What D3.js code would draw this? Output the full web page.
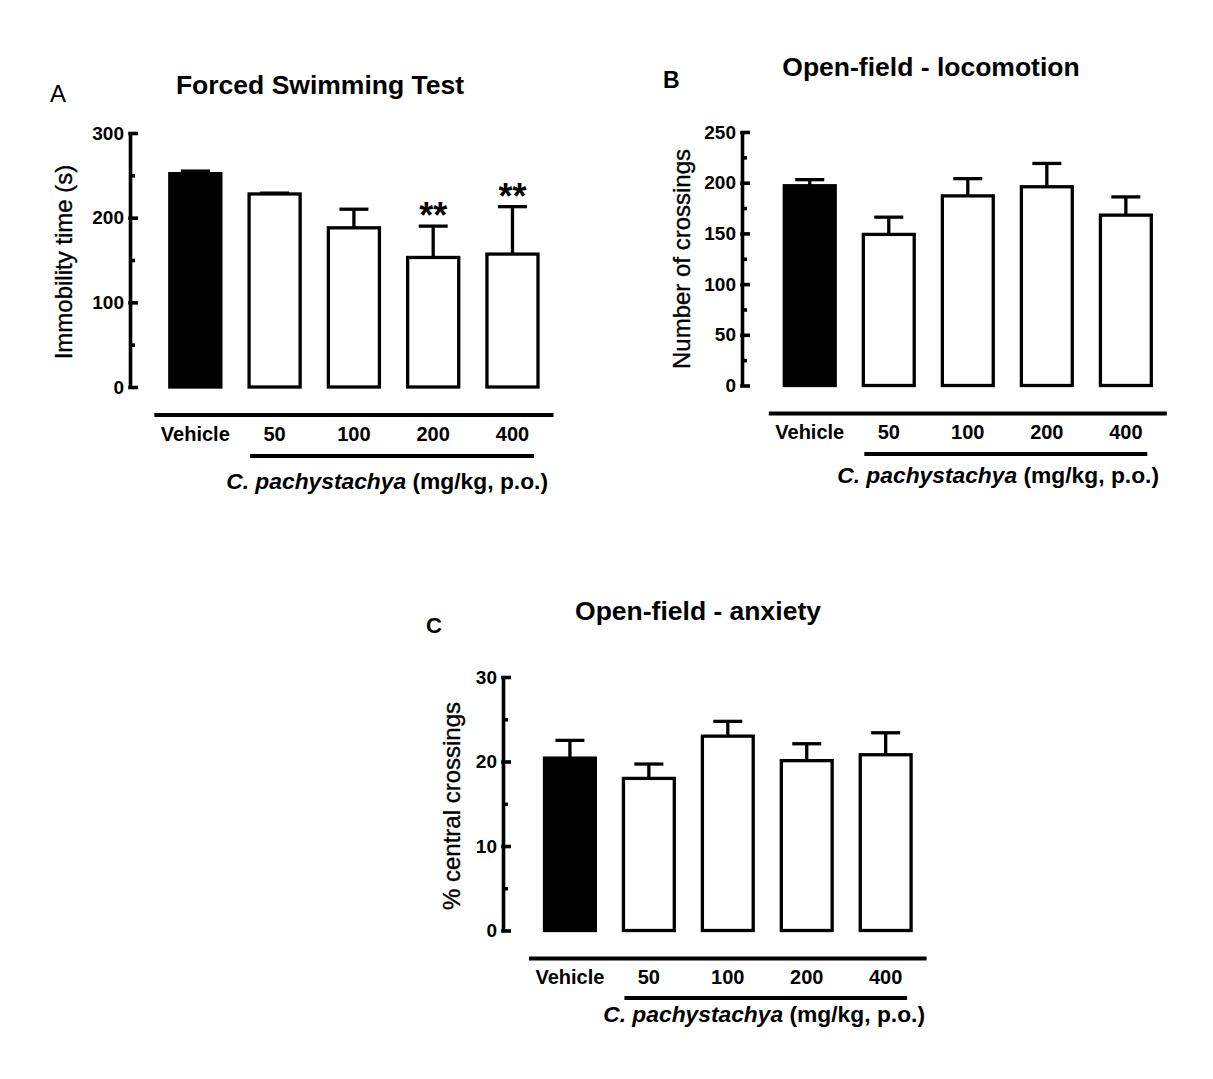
<!DOCTYPE html>
<html>
<head>
<meta charset="utf-8">
<script src="https://cdn.jsdelivr.net/npm/d3@7"></script>
<style>
  html, body { margin: 0; padding: 0; background: #fff; }
  svg { display: block; }
  text { font-family: "Liberation Sans", Arial, Helvetica, sans-serif; fill: #000; }
</style>
</head>
<body>
<script>
// Treatment groups (vehicle + extract doses, mg/kg)
const groups = ["Vehicle", "50", "100", "200", "400"];

// A: forced swimming test, immobility time (s), mean and SEM
const fstMean = [252, 228, 188, 153, 157];
const fstSem = [3, 1, 22, 37, 56];
const fstMarks = ["", "", "", "**", "**"];
const fstTicks = [0, 100, 200, 300];
const fstMinorTicks = [50, 150, 250];

// B: open field, number of crossings
const locoMean = [197, 149, 187, 196, 168];
const locoSem = [6, 17, 17, 23, 18];
const locoTicks = [0, 50, 100, 150, 200, 250];
const locoMinorTicks = [25, 75, 125, 175, 225];

// C: open field, % central crossings
const anxMean = [20.4, 18.0, 23.0, 20.1, 20.8];
const anxSem = [2.1, 1.7, 1.75, 2.0, 2.6];
const anxTicks = [0, 10, 20, 30];
const anxMinorTicks = [5, 15, 25];

const W = 1213, H = 1079;
const svg = d3.select("body").append("svg")
  .attr("width", W).attr("height", H)
  .attr("viewBox", `0 0 ${W} ${H}`);
svg.append("rect").attr("width", W).attr("height", H).attr("fill", "#fff");

const panels = [
  {
    letter: "A", letterBold: false, letterPos: [50, 102], letterSize: 24,
    title: "Forced Swimming Test", titlePos: [320, 94],
    yLabel: "Immobility time (s)", yLabelPos: [72, 262],
    mean: fstMean, sem: fstSem, marks: fstMarks,
    ticks: fstTicks, minor: fstMinorTicks,
    axisX: 130, yTop: 133, yBottom: 387,
    xRange: [169.8, 538],
    noteEnd: 548, noteY: 489, line2Y: 456
  },
  {
    letter: "B", letterBold: true, letterPos: [663, 88], letterSize: 23,
    title: "Open-field - locomotion", titlePos: [931, 76],
    yLabel: "Number of crossings", yLabelPos: [690, 259],
    mean: locoMean, sem: locoSem, marks: null,
    ticks: locoTicks, minor: locoMinorTicks,
    axisX: 742, yTop: 132, yBottom: 385.5,
    xRange: [784.3, 1151.3],
    noteEnd: 1159, noteY: 483, line2Y: 454
  },
  {
    letter: "C", letterBold: true, letterPos: [426, 633], letterSize: 22,
    title: "Open-field - anxiety", titlePos: [698, 620],
    yLabel: "% central crossings", yLabelPos: [460, 806],
    mean: anxMean, sem: anxSem, marks: null,
    ticks: anxTicks, minor: anxMinorTicks,
    axisX: 503, yTop: 677, yBottom: 930.5,
    xRange: [544.5, 911.1],
    noteEnd: 925, noteY: 1022, line2Y: 998
  }
];

const LW = 3.3;

panels.forEach(p => {
  const g = svg.append("g");
  const yMax = p.ticks[p.ticks.length - 1];

  const y = d3.scaleLinear().domain([0, yMax]).range([p.yBottom, p.yTop]);
  const x = d3.scaleBand().domain(groups).range(p.xRange)
    .paddingInner(0.356).paddingOuter(0);
  const bw = x.bandwidth();

  // panel letter and title
  g.append("text")
    .attr("x", p.letterPos[0]).attr("y", p.letterPos[1])
    .attr("font-size", p.letterSize)
    .attr("font-weight", p.letterBold ? "bold" : "normal")
    .text(p.letter);
  g.append("text")
    .attr("x", p.titlePos[0]).attr("y", p.titlePos[1])
    .attr("text-anchor", "middle")
    .attr("font-size", 26.5).attr("font-weight", "bold")
    .text(p.title);

  // y axis label
  g.append("text")
    .attr("transform", `translate(${p.yLabelPos[0]},${p.yLabelPos[1]}) rotate(-90)`)
    .attr("text-anchor", "middle")
    .attr("font-size", 24)
    .attr("stroke", "#000").attr("stroke-width", 0.35)
    .text(p.yLabel);

  // bars
  g.selectAll("rect.bar").data(groups).join("rect")
    .attr("class", "bar")
    .attr("x", d => x(d))
    .attr("width", bw)
    .attr("y", (d, i) => y(p.mean[i]))
    .attr("height", (d, i) => y(0) - y(p.mean[i]))
    .attr("fill", (d, i) => i === 0 ? "#000" : "#fff")
    .attr("stroke", "#000")
    .attr("stroke-width", LW);

  // upward error bars (SEM)
  const capHalf = 14.5;
  groups.forEach((d, i) => {
    const cx = x(d) + bw / 2;
    const top = y(p.mean[i] + p.sem[i]);
    g.append("line")
      .attr("x1", cx).attr("x2", cx)
      .attr("y1", y(p.mean[i])).attr("y2", top)
      .attr("stroke", "#000").attr("stroke-width", LW);
    g.append("line")
      .attr("x1", cx - capHalf).attr("x2", cx + capHalf)
      .attr("y1", top).attr("y2", top)
      .attr("stroke", "#000").attr("stroke-width", LW);
    if (p.marks && p.marks[i]) {
      g.append("text")
        .attr("x", cx).attr("y", top + 2)
        .attr("text-anchor", "middle")
        .attr("font-size", 36).attr("font-weight", "bold")
        .text(p.marks[i]);
    }
  });

  // y axis: ticks point inward, labels on the left
  const axis = d3.axisLeft(y).tickValues(p.ticks).tickSize(-8).tickSizeOuter(0)
    .tickPadding(6).tickFormat(d3.format("d"));
  const ag = g.append("g").attr("transform", `translate(${p.axisX},0)`).call(axis);
  ag.select(".domain").attr("stroke", "#000").attr("stroke-width", 3.6);
  ag.selectAll(".tick line").attr("stroke", "#000").attr("stroke-width", 3.6)
    .attr("x1", -1.8);
  ag.selectAll(".tick text")
    .attr("font-size", 19).attr("font-weight", "bold")
    .attr("font-family", "'Liberation Sans', Arial, sans-serif")
    .attr("fill", "#000");

  const minorAxis = d3.axisLeft(y).tickValues(p.minor).tickSize(-5).tickSizeOuter(0)
    .tickFormat("");
  const mg = g.append("g").attr("transform", `translate(${p.axisX},0)`).call(minorAxis);
  mg.select(".domain").remove();
  mg.selectAll(".tick line").attr("stroke", "#000").attr("stroke-width", 3.6);

  // group brackets and labels
  const line1Y = p.yBottom + 28;
  g.append("line")
    .attr("x1", p.xRange[0] - 15.5).attr("x2", p.xRange[1] + 15.5)
    .attr("y1", line1Y).attr("y2", line1Y)
    .attr("stroke", "#000").attr("stroke-width", 3.8);
  g.selectAll("text.grp").data(groups).join("text")
    .attr("class", "grp")
    .attr("x", d => x(d) + bw / 2)
    .attr("y", line1Y + 25.5)
    .attr("text-anchor", "middle")
    .attr("font-size", 20).attr("font-weight", "bold")
    .text(d => d);
  g.append("line")
    .attr("x1", x(groups[1]) + 1).attr("x2", p.xRange[1] - 4)
    .attr("y1", p.line2Y).attr("y2", p.line2Y)
    .attr("stroke", "#000").attr("stroke-width", 3.8);
  const note = g.append("text")
    .attr("x", p.noteEnd).attr("y", p.noteY)
    .attr("text-anchor", "end")
    .attr("font-size", 22.8).attr("font-weight", "bold");
  note.append("tspan").attr("font-style", "italic").text("C. pachystachya");
  note.append("tspan").text(" (mg/kg, p.o.)");
});
</script>
</body>
</html>
